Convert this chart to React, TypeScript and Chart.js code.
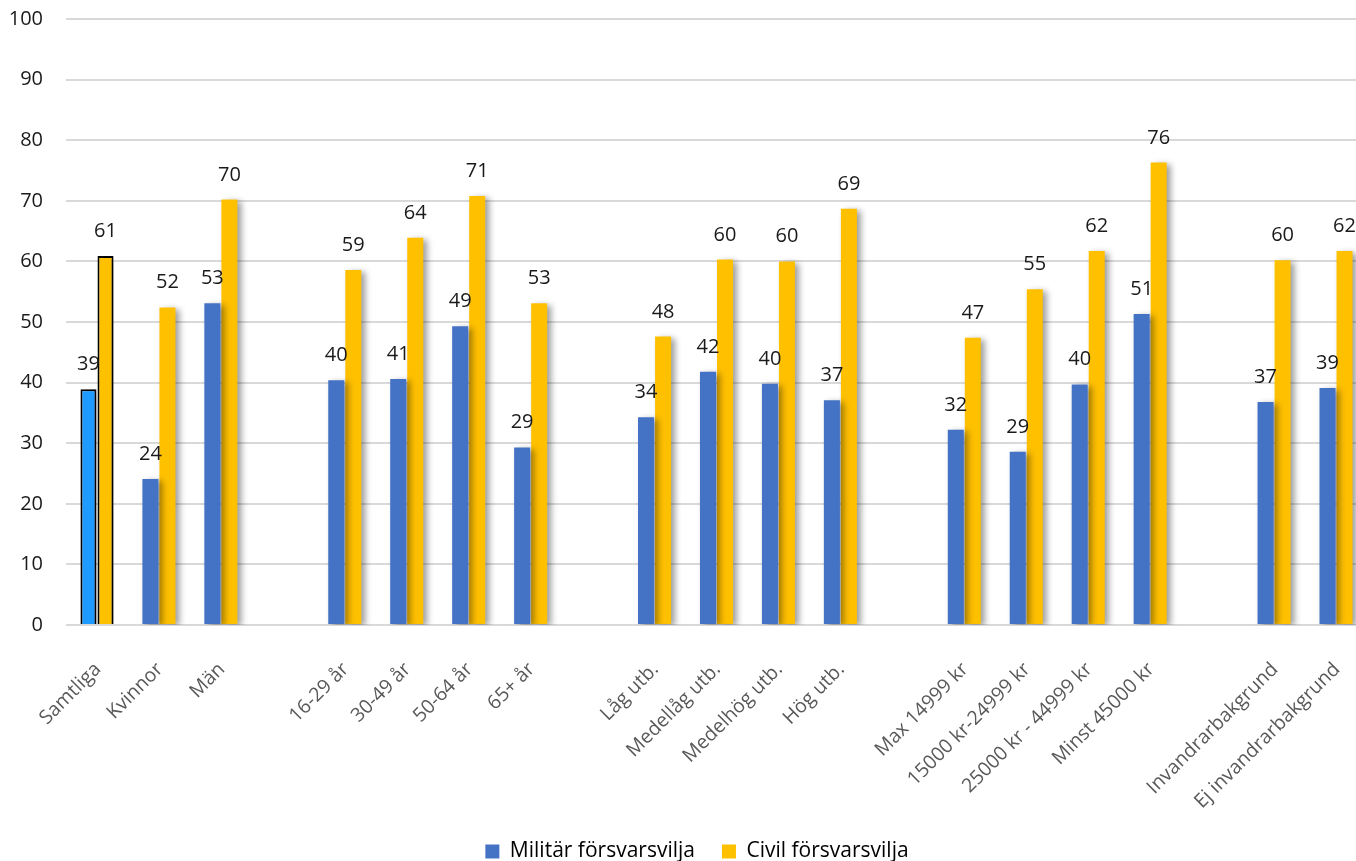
import React, { useEffect, useRef } from 'react';
import { Chart, registerables } from 'chart.js';

Chart.register(...registerables);

const categories: string[] = [
  'Samtliga', 'Kvinnor', 'Män', '',
  '16-29 år', '30-49 år', '50-64 år', '65+ år', '',
  'Låg utb.', 'Medellåg utb.', 'Medelhög utb.', 'Hög utb.', '',
  'Max 14999 kr', '15000 kr-24999 kr', '25000 kr - 44999 kr', 'Minst 45000 kr', '',
  'Invandrarbakgrund', 'Ej invandrarbakgrund',
];

const militarValues: (number | null)[] = [
  38.9, 24.1, 53.1, null,
  40.4, 40.6, 49.3, 29.3, null,
  34.3, 41.8, 39.8, 37.1, null,
  32.2, 28.6, 39.7, 51.3, null,
  36.8, 39.1,
];

const civilValues: (number | null)[] = [
  60.9, 52.4, 70.2, null,
  58.6, 63.9, 70.8, 53.1, null,
  47.6, 60.3, 60.0, 68.7, null,
  47.4, 55.4, 61.7, 76.3, null,
  60.2, 61.7,
];

const seriesNames = ['Militär försvarsvilja', 'Civil försvarsvilja'];
const yMin = 0;
const yMax = 100;
const yStep = 10;

const FONT = "'Open Sans', 'Noto Sans', sans-serif";

const shadowPlugin = {
  id: 'barShadow',
  beforeDatasetsDraw(chart: any) {
    const ctx = chart.ctx;
    ctx.save();
    ctx.shadowColor = 'rgba(0,0,0,0.38)';
    ctx.shadowBlur = 6;
    ctx.shadowOffsetX = 4;
    ctx.shadowOffsetY = 2;
  },
  afterDatasetsDraw(chart: any) {
    chart.ctx.restore();
  },
};

const valueLabelPlugin = {
  id: 'valueLabels',
  afterDraw(chart: any) {
    const ctx = chart.ctx;
    ctx.save();
    ctx.font = `20px ${FONT}`;
    ctx.fillStyle = '#1a1a1a';
    ctx.textAlign = 'center';
    ctx.textBaseline = 'alphabetic';
    chart.data.datasets.forEach((ds: any, di: number) => {
      const meta = chart.getDatasetMeta(di);
      meta.data.forEach((el: any, i: number) => {
        const v = ds.data[i];
        if (v === null || v === undefined) return;
        ctx.fillText(String(Math.round(v)), el.x, el.y - 19);
      });
    });
    ctx.restore();
  },
};

export default function App() {
  const canvasRef = useRef<HTMLCanvasElement | null>(null);

  useEffect(() => {
    if (!canvasRef.current) return;
    const chart = new Chart(canvasRef.current, {
      type: 'bar',
      data: {
        labels: categories,
        datasets: [
          {
            label: seriesNames[0],
            data: militarValues,
            backgroundColor: (c: any) => (c.dataIndex === 0 ? '#1F9BFF' : '#4472C4'),
            borderColor: (c: any) => (c.dataIndex === 0 ? '#000000' : 'rgba(0,0,0,0)'),
            borderWidth: (c: any) => (c.dataIndex === 0 ? 2 : 0),
            categoryPercentage: 0.55,
            barPercentage: 0.94,
          },
          {
            label: seriesNames[1],
            data: civilValues,
            backgroundColor: '#FFC000',
            borderColor: (c: any) => (c.dataIndex === 0 ? '#000000' : 'rgba(0,0,0,0)'),
            borderWidth: (c: any) => (c.dataIndex === 0 ? 2 : 0),
            categoryPercentage: 0.55,
            barPercentage: 0.94,
          },
        ],
      },
      options: {
        responsive: false,
        animation: false,
        layout: { padding: { top: 19, right: 0, left: 0, bottom: 0 } },
        plugins: {
          legend: {
            position: 'bottom',
            labels: {
              boxWidth: 14,
              boxHeight: 14,
              padding: 27,
              color: '#1a1a1a',
              font: { size: 21, family: FONT },
              generateLabels: () => [
                { text: seriesNames[0], fillStyle: '#4472C4', strokeStyle: '#4472C4', lineWidth: 0, datasetIndex: 0 },
                { text: seriesNames[1], fillStyle: '#FFC000', strokeStyle: '#FFC000', lineWidth: 0, datasetIndex: 1 },
              ],
            },
          },
          tooltip: { enabled: false },
        },
        scales: {
          x: {
            grid: { display: false },
            border: { display: false },
            ticks: {
              autoSkip: false,
              minRotation: 45,
              maxRotation: 45,
              color: '#595959',
              padding: 25,
              labelOffset: 1,
              font: { size: 19.5, family: FONT },
            },
            afterFit: (s: any) => {
              s.height = 189;
              s.paddingLeft = 0;
              s.paddingRight = 0;
            },
          },
          y: {
            min: yMin,
            max: yMax,
            ticks: {
              stepSize: yStep,
              color: '#1a1a1a',
              padding: 23,
              font: { size: 20, family: FONT },
            },
            grid: { color: '#D9D9D9', lineWidth: 2, drawTicks: false },
            border: { display: false },
            afterFit: (s: any) => {
              s.width = 66;
              s.paddingTop = 0;
              s.paddingBottom = 0;
            },
          },
          yRight: {
            type: 'linear',
            position: 'right',
            display: true,
            grid: { display: false, drawTicks: false },
            border: { display: false },
            ticks: { display: false },
            afterFit: (s: any) => {
              s.width = 27;
              s.paddingTop = 0;
              s.paddingBottom = 0;
            },
          },
        },
      },
      plugins: [shadowPlugin, valueLabelPlugin],
    });
    return () => chart.destroy();
  }, []);

  return (
    <div style={{ position: 'fixed', left: 0, top: 0, width: 1356, height: 861, overflow: 'hidden', background: '#ffffff' }}>
      <canvas ref={canvasRef} width={1394} height={872} style={{ display: 'block' }} />
    </div>
  );
}
